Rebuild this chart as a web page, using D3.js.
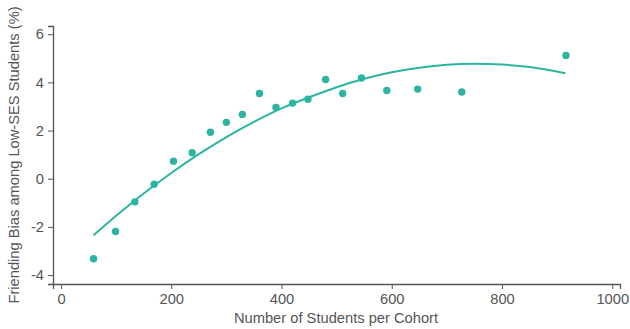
<!DOCTYPE html>
<html>
<head>
<meta charset="utf-8">
<script src="https://cdn.jsdelivr.net/npm/d3@7"></script>
<style>
  body { margin: 0; background: #fff; }
  text { font-family: "Liberation Sans", Arial, sans-serif; }
</style>
</head>
<body>
<svg id="chart" width="630" height="329"></svg>
<script>
// Binned scatter: students per cohort vs friending bias
var cohortSize = [59, 99, 134, 169, 204, 238, 271, 300, 329, 360, 390, 420, 448, 480, 511, 545, 591, 647, 727, 916];
var friendingBias = [-3.32, -2.19, -0.96, -0.23, 0.73, 1.08, 1.93, 2.34, 2.67, 3.54, 2.96, 3.14, 3.30, 4.12, 3.54, 4.18, 3.66, 3.72, 3.60, 5.12];

// Fitted curve
var fitX = [59, 100, 150, 200, 250, 300, 350, 400, 450, 500, 550, 600, 650, 700, 750, 800, 850, 915];
var fitY = [-2.35, -1.54, -0.61, 0.24, 1.02, 1.73, 2.36, 2.92, 3.38, 3.80, 4.15, 4.42, 4.61, 4.73, 4.77, 4.74, 4.64, 4.38];

var xTicks = [0, 200, 400, 600, 800, 1000];
var yTicks = [-4, -2, 0, 2, 4, 6];

var teal = '#2bb5a0';
var axisGray = '#555';
var fontSize = '14.7px';

var svg = d3.select('#chart');

var x = d3.scaleLinear().domain([-14.5, 1014]).range([53, 620]);
var y = d3.scaleLinear().domain([-4.37, 6.34]).range([284, 26]);

// axes
var xAxis = svg.append('g')
    .attr('transform', 'translate(0,284)')
    .call(d3.axisBottom(x).tickValues(xTicks).tickSizeOuter(0).tickSize(5).tickPadding(5)
        .tickFormat(d => String(d)));

var yAxis = svg.append('g')
    .attr('transform', 'translate(53,0)')
    .call(d3.axisLeft(y).tickValues(yTicks).tickSizeOuter(0).tickSize(5).tickPadding(4)
        .tickFormat(d => String(d)));

[xAxis, yAxis].forEach(function(g) {
    g.select('.domain').attr('stroke', axisGray).attr('stroke-width', 1.3);
    g.selectAll('.tick line').attr('stroke', axisGray).attr('stroke-width', 1);
    g.selectAll('.tick text')
        .attr('fill', '#555')
        .style('font-size', fontSize)
        .style('font-family', '"Liberation Sans", Arial, sans-serif');
});

// axis titles
svg.append('text')
    .attr('x', 336)
    .attr('y', 323)
    .attr('text-anchor', 'middle')
    .attr('fill', '#555')
    .style('font-size', fontSize)
    .text('Number of Students per Cohort');

svg.append('text')
    .attr('transform', 'translate(19,155) rotate(-90)')
    .attr('text-anchor', 'middle')
    .attr('fill', '#555')
    .style('font-size', fontSize)
    .text('Friending Bias among Low-SES Students (%)');

// fitted line
var line = d3.line()
    .x((d, i) => x(fitX[i]))
    .y(d => y(d))
    .curve(d3.curveMonotoneX);

svg.append('path')
    .datum(fitY)
    .attr('d', line)
    .attr('fill', 'none')
    .attr('stroke', teal)
    .attr('stroke-width', 2);

// points
svg.selectAll('.pt')
    .data(cohortSize)
    .enter()
    .append('circle')
    .attr('class', 'pt')
    .attr('cx', d => x(d))
    .attr('cy', (d, i) => y(friendingBias[i]))
    .attr('r', 3.7)
    .attr('fill', teal);
</script>
</body>
</html>
